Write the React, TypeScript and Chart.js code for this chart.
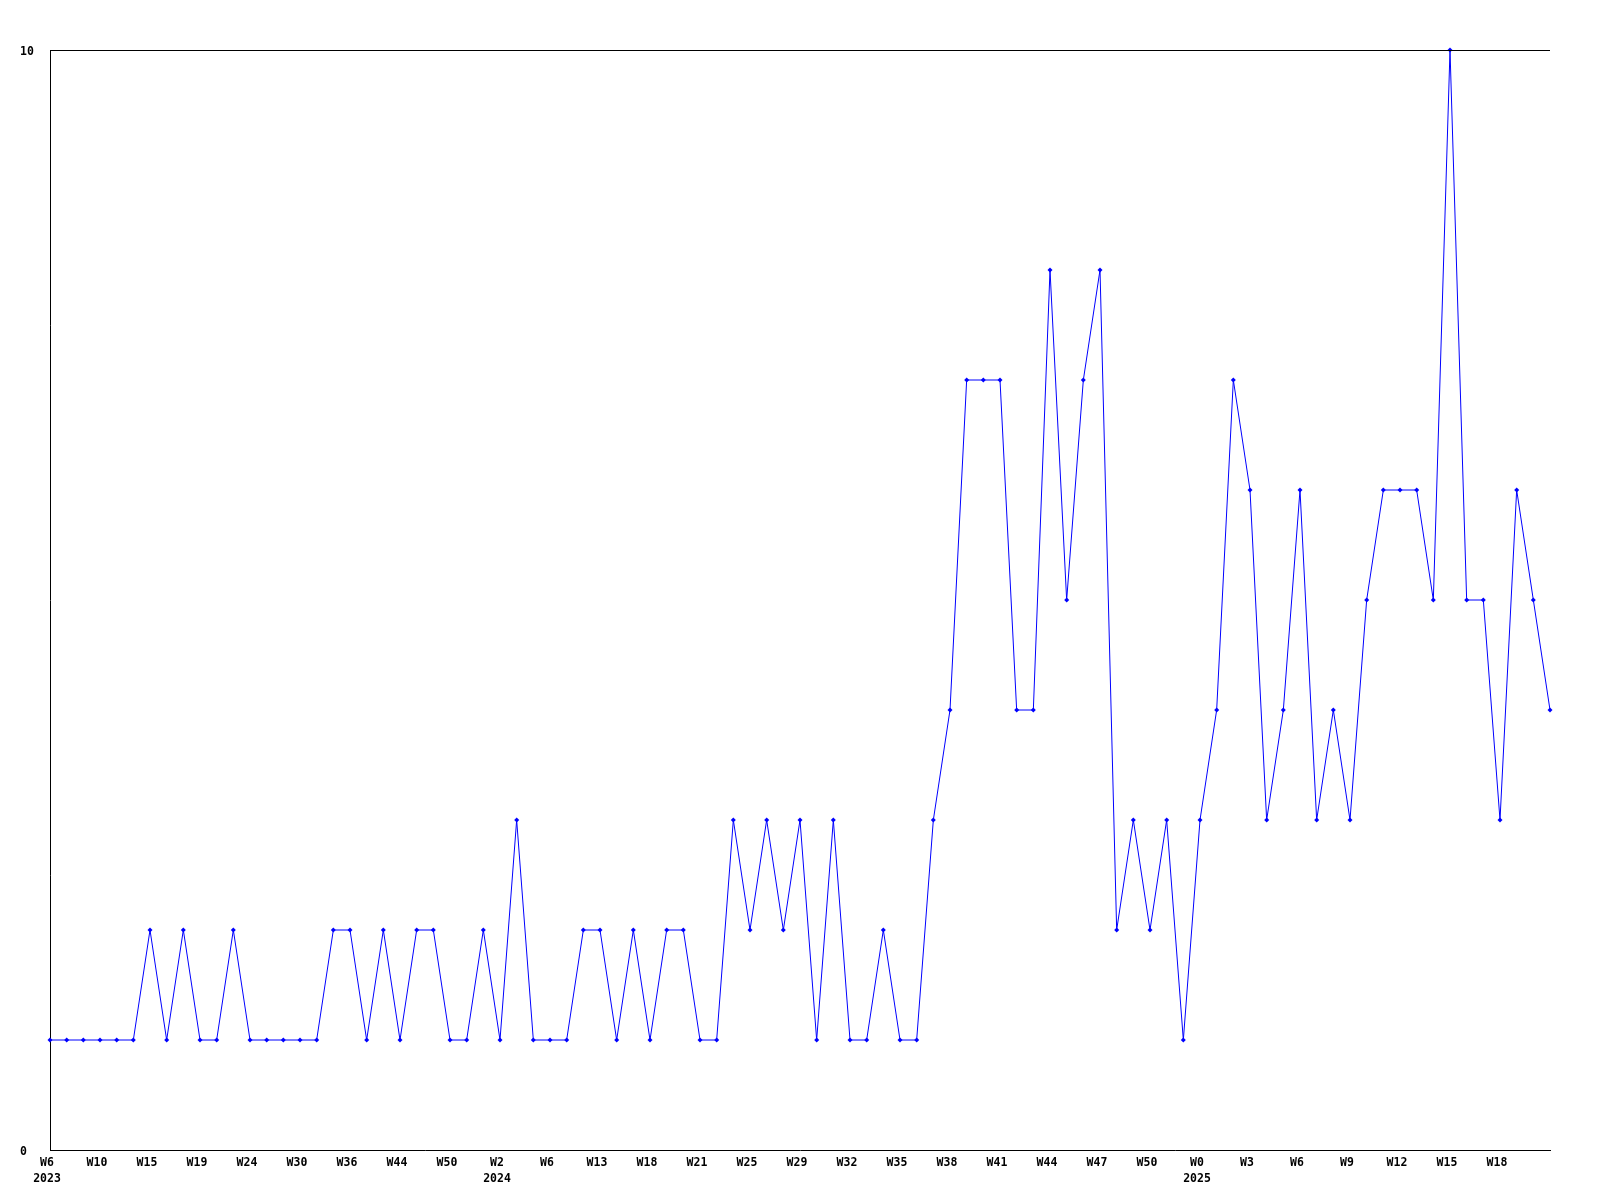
import { useEffect, useRef } from 'react';
import { Chart, registerables } from 'chart.js';

Chart.register(...registerables);

// Series values, one per sample (weekly buckets)
const values: number[] = [
  1, 1, 1, 1, 1, 1, 2, 1, 2, 1,
  1, 2, 1, 1, 1, 1, 1, 2, 2, 1,
  2, 1, 2, 2, 1, 1, 2, 1, 3, 1,
  1, 1, 2, 2, 1, 2, 1, 2, 2, 1,
  1, 3, 2, 3, 2, 3, 1, 3, 1, 1,
  2, 1, 1, 3, 4, 7, 7, 7, 4, 4,
  8, 5, 7, 8, 2, 3, 2, 3, 1, 3,
  4, 7, 6, 3, 4, 6, 3, 4, 3, 5,
  6, 6, 6, 5, 10, 5, 5, 3, 6, 5,
  4,
];

// Week tick labels, shown on every third sample
const weekLabels: string[] = [
  'W6', 'W10', 'W15', 'W19', 'W24', 'W30', 'W36', 'W44', 'W50', 'W2',
  'W6', 'W13', 'W18', 'W21', 'W25', 'W29', 'W32', 'W35', 'W38', 'W41',
  'W44', 'W47', 'W50', 'W0', 'W3', 'W6', 'W9', 'W12', 'W15', 'W18',
];
const labelEvery = 3;

// Year labels and the week label each sits under
const yearLabels: string[] = ['2023', '2024', '2025'];
const yearAtWeekLabel: number[] = [0, 9, 23];

const yTicks: number[] = [0, 10];

export default function App() {
  const ref = useRef<HTMLCanvasElement>(null);

  useEffect(() => {
    document.body.style.margin = '0';
    const labels: (string | string[])[] = values.map((_, i) => {
      if (i % labelEvery !== 0) return '';
      const k = i / labelEvery;
      const w = weekLabels[k];
      if (w === undefined) return '';
      const yi = yearAtWeekLabel.indexOf(k);
      return yi >= 0 ? [w, yearLabels[yi]] : w;
    });

    const font = { family: '"DejaVu Sans Mono", monospace', size: 11.5, weight: 'bold' as const, lineHeight: 1.4 };

    const topLine = {
      id: 'topLine',
      afterDraw(chart: any) {
        const { ctx, chartArea } = chart;
        ctx.save();
        ctx.strokeStyle = '#000';
        ctx.lineWidth = 1;
        ctx.beginPath();
        ctx.moveTo(chartArea.left, Math.round(chartArea.top) + 0.5);
        ctx.lineTo(chartArea.right, Math.round(chartArea.top) + 0.5);
        ctx.stroke();
        ctx.restore();
      },
    };

    const chart = new Chart(ref.current!, {
      type: 'line',
      data: {
        labels,
        datasets: [
          {
            data: values,
            borderColor: '#0000ff',
            borderWidth: 1,
            pointStyle: 'rectRot',
            pointRadius: 2.5,
            pointBackgroundColor: '#0000ff',
            pointBorderColor: '#0000ff',
            pointBorderWidth: 0,
            tension: 0,
            clip: false as any,
          },
        ],
      },
      options: {
        responsive: false,
        animation: false,
        devicePixelRatio: 1,
        layout: { padding: { left: 20, right: 50, top: 50, bottom: 0 } },
        plugins: {
          legend: { display: false },
          tooltip: { enabled: false },
        },
        scales: {
          x: {
            offset: false,
            grid: { display: false, drawTicks: false },
            border: { display: true, color: '#000', width: 1 },
            ticks: {
              autoSkip: false,
              maxRotation: 0,
              minRotation: 0,
              padding: 5,
              labelOffset: -3,
              color: '#000',
              font,
            },
            afterFit: (s: any) => {
              s.height = 50;
            },
          },
          y: {
            min: 0,
            max: 10,
            grid: { display: false, drawTicks: false },
            border: { display: true, color: '#000', width: 1 },
            afterBuildTicks: (s: any) => {
              s.ticks = yTicks.map((v) => ({ value: v }));
            },
            ticks: {
              crossAlign: 'far',
              padding: 0,
              labelOffset: 2,
              color: '#000',
              font,
            },
            afterFit: (s: any) => {
              s.width = 30;
            },
          },
        },
      },
      plugins: [topLine],
    });
    return () => chart.destroy();
  }, []);

  return (
    <canvas ref={ref} width={1600} height={1200} style={{ display: 'block', width: 1600, height: 1200 }} />
  );
}
